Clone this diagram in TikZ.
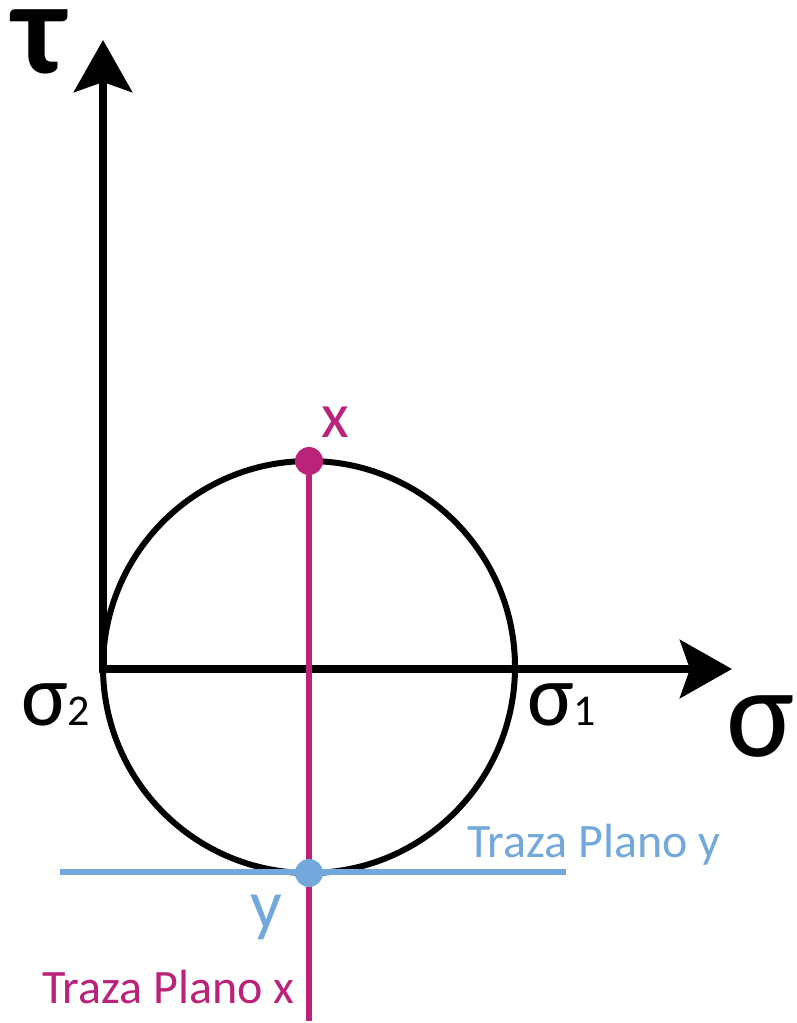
\documentclass[tikz,border=0pt]{standalone}
\usepackage{fontspec}
\setmainfont{Carlito}
\usepackage{xcolor}
\usetikzlibrary{arrows.meta,positioning}
\definecolor{plum}{HTML}{BA2379}
\definecolor{sky}{HTML}{72A8DB}

\begin{document}
\begin{tikzpicture}[x=1pt,y=-1pt,
  axis/.style={line width=8pt,{Stealth[length=52pt,width=58pt,inset=10pt]}-{Stealth[length=52pt,width=58pt,inset=10pt]}},
  mohr/.style={line width=6pt},
  trace/.style={line width=5.5pt},
  dot/.style={circle,inner sep=0pt,minimum size=28pt},
  lbl/.style={anchor=base west,inner sep=0pt}]
  \useasboundingbox (0,0) rectangle (796,1023);
  \coordinate (o) at (103,669);
  \coordinate (tautip) at (103,40);
  \coordinate (sigtip) at (732,669);
  \coordinate (c) at (309,667);
  \coordinate (xend) at (309,1021);
  \coordinate (yleft) at (60,872);
  \coordinate (yright) at (566,872);
  % circulo y ejes
  \draw[mohr] (c) circle[radius=206];
  \draw[axis] (tautip) -- (o) -- (sigtip);
  % trazas
  \draw[trace,sky] (yleft) -- (yright);
  \node[dot,fill=plum] (px) at (309,461) {};
  \draw[trace,plum] (px) -- (xend);
  \node[dot,fill=sky] (py) at (309,873) {};
  % textos
  \node[lbl,text height=64pt] (tau) at (13,73) {\fontsize{132}{132}\selectfont\bfseries τ};
  \node[lbl] (sig) at (726,756) {\fontsize{128}{128}\selectfont σ};
  \node[lbl] (sig2) at (21,725) {\fontsize{88}{88}\selectfont σ\fontsize{44}{44}\selectfont 2};
  \node[lbl] (sig1) at (527,725) {\fontsize{88}{88}\selectfont σ\fontsize{44}{44}\selectfont 1};
  \node[lbl,plum] (lx) at (321,437) {\fontsize{64}{64}\selectfont x};
  \node[lbl,sky] (ly) at (250,928) {\fontsize{70}{70}\selectfont y};
  \node[lbl,sky] (ty) at (467,857) {\fontsize{48}{48}\selectfont Traza Plano y};
  \node[lbl,plum] (tx) at (42,1003) {\fontsize{48}{48}\selectfont Traza Plano x};
\end{tikzpicture}
\end{document}
